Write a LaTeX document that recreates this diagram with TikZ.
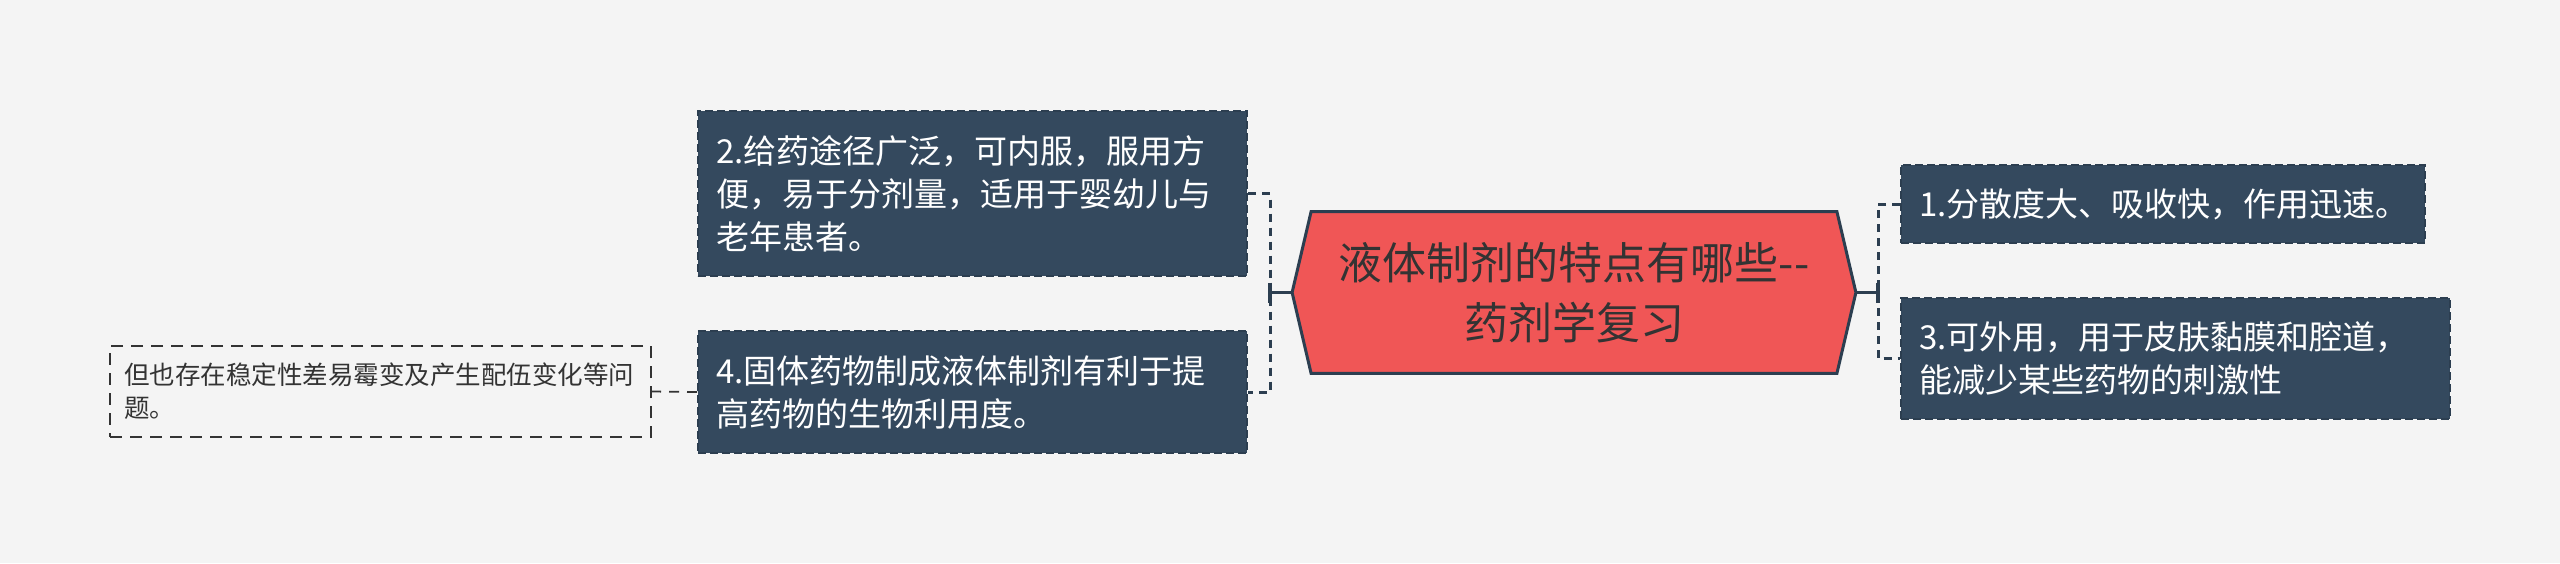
\documentclass[tikz,border=0pt]{standalone}
\usepackage{fontspec}
\setmainfont{Noto Sans CJK SC}
\usetikzlibrary{backgrounds,calc}
\definecolor{bgc}{HTML}{F4F4F4}
\definecolor{darkc}{HTML}{34495E}
\definecolor{edgec}{HTML}{2C3E50}
\definecolor{redc}{HTML}{F05656}
\definecolor{txtc}{HTML}{333333}
\begin{document}
\begin{tikzpicture}[x=0.5pt,y=-0.5pt,
  topicbox/.style={rectangle, fill=darkc, draw=edgec, dashed, dash pattern=on 4pt off 2pt, line width=1pt,
     text=white, align=left, inner xsep=9pt, inner ysep=0pt,
     font=\fontsize{16.5}{21.5}\selectfont},
  notebox/.style={rectangle, draw=txtc, dash pattern=on 6pt off 4pt, line width=0.9pt,
     text=txtc, align=left, inner xsep=7pt, inner ysep=0pt, text width=256.5pt,
     minimum height=45.5pt, font=\fontsize{12.75}{16.5}\selectfont},
  mainline/.style={draw=edgec, line width=1.6pt},
  dashline/.style={draw=edgec, line width=1.5pt, dash pattern=on 4pt off 3pt},
  notedash/.style={draw=txtc, line width=0.9pt, dash pattern=on 5pt off 4pt}]
\begin{scope}[on background layer]
\fill[bgc] (0,0) rectangle (2560,563);
\end{scope}
\useasboundingbox (0,0) rectangle (2560,563);

% central topic
\node[rectangle, inner sep=0pt, minimum width=262.5pt, minimum height=80.5pt, align=center,
      text=txtc, font=\fontsize{22}{30}\selectfont] (c) at (1574,292.5)
      {液体制剂的特点有哪些-{}-\\药剂学复习};
\begin{scope}[on background layer]
\draw[fill=redc, draw=edgec, line width=1.5pt, line join=miter]
  (c.north west) -- (c.north east) -- ([xshift=9.5pt]c.east) -- (c.south east)
  -- (c.south west) -- ([xshift=-9.5pt]c.west) -- cycle;
\end{scope}

% left branch
\node[topicbox, text width=256.5pt, minimum height=82.5pt] (n2) at (972.5,193.5)
  {2.给药途径广泛，可内服，服用方\\便，易于分剂量，适用于婴幼儿与\\老年患者。};
\node[topicbox, text width=256.5pt, minimum height=61pt] (n4) at (972.5,392)
  {4.固体药物制成液体制剂有利于提\\高药物的生物利用度。};
\node[notebox] (note) at (380.5,391.5)
  {但也存在稳定性差易霉变及产生配伍变化等问\\题。};

% right branch
\node[topicbox, text width=244pt, minimum height=39pt] (n1) at (2163,204)
  {1.分散度大、吸收快，作用迅速。};
\node[topicbox, text width=256.5pt, minimum height=60.5pt] (n3) at (2175.5,358.5)
  {3.可外用，用于皮肤黏膜和腔道，\\能减少某些药物的刺激性};

\coordinate (lj) at (1270,292.5);
\coordinate (rj) at (1878,292.5);

% connectors
\draw[mainline] ([xshift=-9.5pt]c.west) -- (lj);
\draw[mainline] ([yshift=5pt]lj) -- ([yshift=-5pt]lj);
\draw[dashline] (n2.east) -- (n2.east -| lj) -- (n4.east -| lj) -- (n4.east);
\draw[mainline] ([xshift=9.5pt]c.east) -- (rj);
\draw[mainline] ([yshift=5pt]rj) -- ([yshift=-5pt]rj);
\draw[dashline] (n1.west) -- (n1.west -| rj) -- (n3.west -| rj) -- (n3.west);
\draw[notedash] (n4.west) -- (note.east);
\end{tikzpicture}
\end{document}
